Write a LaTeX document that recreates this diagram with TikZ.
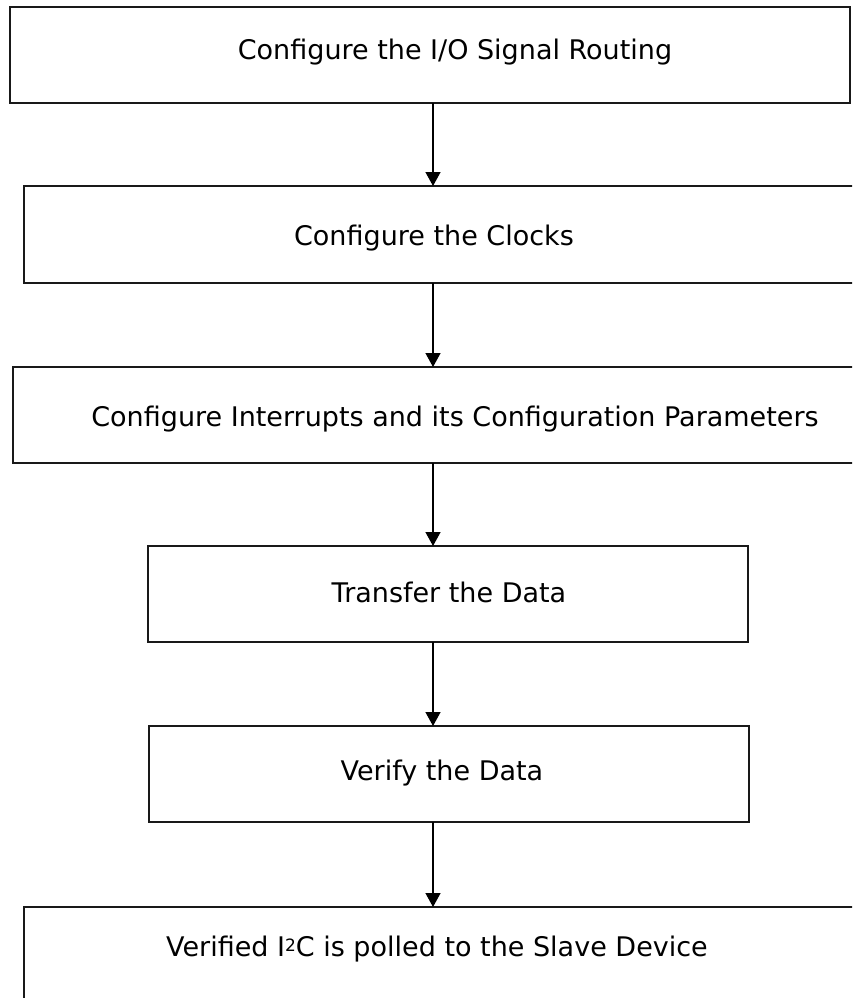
\documentclass[tikz,border=0pt]{standalone}
\usepackage{fontspec}
\setmainfont{DejaVu Sans}
\usetikzlibrary{arrows.meta}
\tikzset{
  stepbox/.style={draw=black!90, line width=1.8pt, fill=white},
  steptext/.style={font=\fontsize{27}{31}\selectfont, inner sep=0pt, anchor=center},
  flow/.style={draw=black, line width=1.4pt, -{Triangle[length=14pt,width=15pt]}},
}
\begin{document}
\begin{tikzpicture}[x=1pt,y=-1pt]
  \useasboundingbox (0,0) rectangle (852,998);
  \clip (0,0) rectangle (852,998);
  % boxes, corners given in page pixels
  \draw[stepbox] (10,7) rectangle (850,103);
  \draw[stepbox] (24,186) rectangle (870,283);
  \draw[stepbox] (13,367) rectangle (870,463);
  \draw[stepbox] (148,546) rectangle (748,642);
  \draw[stepbox] (149,726) rectangle (749,822);
  \draw[stepbox] (24,907) rectangle (870,1010);
  % coordinates on the box edges where the arrows run
  \coordinate (b1s) at (433,103);
  \coordinate (b2n) at (433,186);
  \coordinate (b2s) at (433,283);
  \coordinate (b3n) at (433,367);
  \coordinate (b3s) at (433,463);
  \coordinate (b4n) at (433,546);
  \coordinate (b4s) at (433,642);
  \coordinate (b5n) at (433,726);
  \coordinate (b5s) at (433,822);
  \coordinate (b6n) at (433,907);
  % labels
  \node[steptext] (t1) at (455,52) {Configure the I/O Signal Routing};
  \node[steptext] (t2) at (434,238) {Configure the Clocks};
  \node[steptext] (t3) at (455,419) {Configure Interrupts and its Configuration Parameters};
  \node[steptext] (t4) at (449,592) {Transfer the Data};
  \node[steptext] (t5) at (442,773) {Verify the Data};
  \node[steptext] (t6) at (437,949) {Verified I{\fontsize{17}{20}\selectfont\raisebox{5pt}{2}}C is polled to the Slave Device};
  % connectors
  \draw[flow] (b1s) -- (b2n);
  \draw[flow] (b2s) -- (b3n);
  \draw[flow] (b3s) -- (b4n);
  \draw[flow] (b4s) -- (b5n);
  \draw[flow] (b5s) -- (b6n);
\end{tikzpicture}
\end{document}
